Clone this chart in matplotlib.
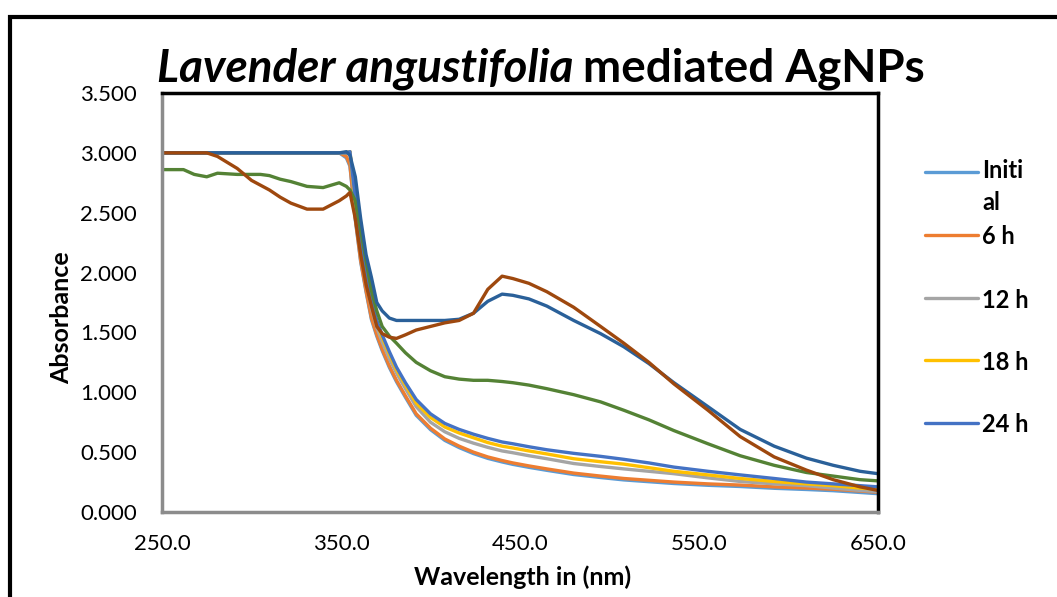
import matplotlib
matplotlib.use("Agg")
import matplotlib.pyplot as plt
from matplotlib.lines import Line2D
from matplotlib.patches import Rectangle
from matplotlib.ticker import FormatStrFormatter

plt.rcParams['font.family'] = ['Lato', 'DejaVu Sans']

wl = [250, 262, 268, 275, 281, 292, 300, 305, 310, 316,
      322, 331, 340, 349, 353, 355, 358, 361, 364, 367,
      370, 373, 377, 381, 386, 392, 400, 408, 416, 424,
      432, 440, 446, 455, 465, 480, 495, 508, 522, 536,
      555, 573, 592, 610, 625, 640, 650]

flat = [3.0] * 14

abs_6h = flat + [2.97, 2.90, 2.45, 2.10, 1.85, 1.62,
                 1.48, 1.36, 1.22, 1.10, 0.97, 0.82, 0.70, 0.61, 0.55, 0.50,
                 0.46, 0.43, 0.41, 0.385, 0.36, 0.325, 0.30, 0.28, 0.265, 0.25,
                 0.235, 0.225, 0.21, 0.20, 0.19, 0.175, 0.165]
abs_initial = [v if v >= 2.99 else v - 0.012 for v in abs_6h]
abs_12h = flat + [3.0, 3.01, 2.55, 2.20, 1.93, 1.70,
                  1.54, 1.42, 1.28, 1.16, 1.03, 0.88, 0.75, 0.67, 0.615, 0.575,
                  0.54, 0.51, 0.495, 0.47, 0.445, 0.405, 0.38, 0.36, 0.34, 0.32,
                  0.285, 0.255, 0.235, 0.22, 0.20, 0.18, 0.17]
abs_18h = flat + [3.0, 3.01, 2.60, 2.25, 1.97, 1.74,
                  1.58, 1.46, 1.32, 1.19, 1.06, 0.91, 0.79, 0.71, 0.66, 0.62,
                  0.58, 0.55, 0.535, 0.51, 0.485, 0.445, 0.42, 0.40, 0.37, 0.34,
                  0.31, 0.28, 0.255, 0.235, 0.22, 0.20, 0.19]
abs_24h = flat + [3.0, 3.01, 2.62, 2.28, 2.00, 1.78,
                  1.60, 1.48, 1.34, 1.21, 1.08, 0.94, 0.82, 0.74, 0.69, 0.65,
                  0.615, 0.585, 0.57, 0.545, 0.52, 0.49, 0.465, 0.44, 0.41, 0.375,
                  0.34, 0.31, 0.28, 0.25, 0.235, 0.22, 0.21]
abs_30h = [2.86, 2.86, 2.82, 2.80, 2.83, 2.82, 2.82, 2.82, 2.81, 2.78,
           2.76, 2.72, 2.71, 2.75, 2.72, 2.69, 2.60, 2.35, 2.10, 1.85,
           1.68, 1.55, 1.47, 1.41, 1.33, 1.25, 1.18, 1.13, 1.11, 1.10,
           1.10, 1.09, 1.08, 1.06, 1.03, 0.98, 0.92, 0.85, 0.77, 0.68,
           0.57, 0.47, 0.39, 0.33, 0.30, 0.27, 0.26]
abs_36h = flat + [3.01, 2.98, 2.80, 2.45, 2.15, 1.96,
                  1.75, 1.68, 1.62, 1.60, 1.60, 1.60, 1.60, 1.60, 1.61, 1.66,
                  1.76, 1.82, 1.81, 1.78, 1.72, 1.60, 1.49, 1.38, 1.24, 1.08,
                  0.88, 0.69, 0.55, 0.45, 0.39, 0.34, 0.32]
abs_42h = [3.0, 3.0, 3.0, 3.0, 2.97, 2.87, 2.77, 2.73, 2.69, 2.63,
           2.58, 2.53, 2.53, 2.60, 2.64, 2.67, 2.45, 2.15, 1.90, 1.72,
           1.55, 1.49, 1.46, 1.45, 1.48, 1.52, 1.55, 1.58, 1.60, 1.66,
           1.86, 1.97, 1.95, 1.91, 1.84, 1.71, 1.55, 1.41, 1.25, 1.07,
           0.85, 0.63, 0.46, 0.35, 0.27, 0.21, 0.18]

series = [abs_initial, abs_6h, abs_12h, abs_18h, abs_24h, abs_30h, abs_36h, abs_42h]
colors = ['#5B9BD5', '#ED7D31', '#A5A5A5', '#FFC000', '#4472C4',
          '#548235', '#2A6099', '#9E480E']
legend_labels = ['Initi\nal', '6 h', '12 h', '18 h', '24 h']

W, H = 1057, 597
fig = plt.figure(figsize=(W / 100, H / 100), dpi=100)
ax = fig.add_axes([162 / W, 1 - 512 / H, 716 / W, 419 / H])

for vals, c in zip(series, colors):
    ax.plot(wl, vals, color=c, lw=2.4, solid_capstyle='round', solid_joinstyle='round')

ax.set_xlim(250, 650)
ax.set_ylim(0, 3.5)
ax.set_xticks([250, 350, 450, 550, 650])
ax.set_yticks([0, 0.5, 1.0, 1.5, 2.0, 2.5, 3.0, 3.5])
ax.xaxis.set_major_formatter(FormatStrFormatter('%.1f'))
ax.yaxis.set_major_formatter(FormatStrFormatter('%.3f'))
ax.tick_params(axis='both', length=0, labelsize=16)
ax.tick_params(axis='y', pad=18)
ax.tick_params(axis='x', pad=16)

for s in ['top', 'right']:
    ax.spines[s].set_color('black')
    ax.spines[s].set_linewidth(2.5)
for s in ['left', 'bottom']:
    ax.spines[s].set_color('#8c8c8c')
    ax.spines[s].set_linewidth(2.5)

ax.set_ylabel('Absorbance', fontsize=18, fontweight='bold')
ax.yaxis.set_label_coords(-0.124, 0.463)
ax.set_xlabel('Wavelength in (nm)', fontsize=18, fontweight='bold')
ax.xaxis.set_label_coords(0.503, -0.128)

# title: italic species name + bold rest
renderer = fig.canvas.get_renderer()
t1 = fig.text(0, 1 - 82 / H, 'Lavender angustifolia ', fontsize=28,
              fontweight='bold', fontstyle='italic', va='baseline')
t2 = fig.text(0, 1 - 82 / H, 'mediated AgNPs', fontsize=28,
              fontweight='bold', va='baseline')
w1 = t1.get_window_extent(renderer).width
w2 = t2.get_window_extent(renderer).width
scale = 768 / (w1 + w2)
t1.set_fontsize(28 * scale)
t2.set_fontsize(28 * scale)
w1 = t1.get_window_extent(renderer).width
w2 = t2.get_window_extent(renderer).width
x0 = 541 - (w1 + w2) / 2
t1.set_x(x0 / W)
t2.set_x((x0 + w1) / W)

# legend (only the first five entries are visible in the original)
leg_y = [172, 235, 298, 360, 423]
for lab, c, y in zip(legend_labels, colors, leg_y):
    fig.add_artist(Line2D([925 / W, 978 / W], [1 - y / H, 1 - y / H],
                          color=c, lw=2.4, solid_capstyle='round'))
    if '\n' in lab:
        fig.text(982 / W, 1 - (y - 13) / H, lab, fontsize=17, fontweight='bold',
                 va='top', linespacing=1.5)
    else:
        fig.text(982 / W, 1 - y / H, lab, fontsize=17, fontweight='bold',
                 va='center_baseline')

# outer chart border
fig.add_artist(Rectangle((10 / W, -0.1), 1.2, 1.1 - 17 / H,
                         transform=fig.transFigure, fill=False,
                         edgecolor='black', lw=3, clip_on=False))

fig.savefig('out.png', dpi=100)
